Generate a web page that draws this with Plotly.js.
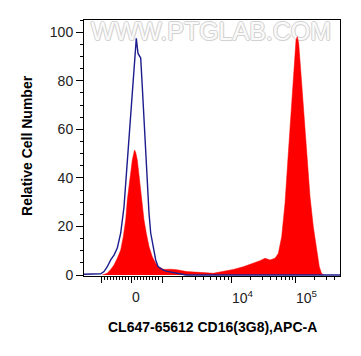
<!DOCTYPE html>
<html>
<head>
<meta charset="utf-8">
<script src="https://cdn.plot.ly/plotly-3.0.1.min.js"></script>
<style>html,body{margin:0;padding:0;background:#fff;}#chart{width:361px;height:356px;}</style>
</head>
<body>
<div id="chart"></div>
<script>
// Display channel (0..256 on a biexponential display) and relative counts
const sampleChannel = [18.3, 23.3, 26.7, 30, 33.3, 36.7, 39.3, 41.7, 43.3, 46, 48.3, 50.5, 51.7, 53.3, 55, 57.3, 60, 62.3, 65, 68.3, 71.7, 75, 80, 86, 92.7, 102.7, 112.7, 122.7, 129.3, 139.3, 149.3, 159.3, 169.3, 176, 181, 186, 191, 194.3, 197.7, 201, 204.3, 207.7, 210, 212, 213.3, 214.7, 216.7, 219.3, 222.7, 226, 229.3, 232.7, 235.3, 237.7, 240];
const sampleCount = [0, 0.7, 2.3, 4.1, 6.9, 10.3, 15.8, 22.7, 30.9, 40.5, 47.4, 51.5, 50.5, 47.4, 40.5, 30.9, 22.7, 17.2, 11.7, 7.5, 4.8, 3.2, 2.3, 2.4, 2.2, 1.4, 1.0, 0.9, 0.7, 1.4, 2.3, 3.4, 4.8, 5.9, 6.9, 6.2, 6.9, 8.9, 15.8, 29.5, 50.1, 70.7, 88.6, 96.8, 98.2, 95.5, 84.5, 70.7, 50.1, 32.3, 19.9, 10.3, 3.4, 0.5, 0];

const controlChannel = [0, 12, 16.7, 20, 23.3, 26.7, 30, 33.3, 36.7, 40, 43.3, 46.7, 50, 52.3, 54, 55.5, 56.7, 58.3, 60, 61.7, 63.3, 65, 66.7, 70, 71.7, 74, 78, 82, 88, 96, 102, 256];
const controlCount = [0.3, 0.4, 0.5, 1.4, 3.4, 6.2, 8.2, 11.1, 17.3, 28.1, 47.4, 63.9, 84.5, 97.5, 91.3, 89.8, 89.4, 77.6, 63.9, 50.3, 36.4, 25.5, 17.3, 10.3, 6.2, 3.5, 2.3, 1.6, 1.2, 0.6, 0, 0];

const yTickVals = [0, 20, 40, 60, 80, 100];
const xMajorValues = [-1000, 0, 1000, 10000, 100000];
const xLabelValues = [0, 10000, 100000];
const xLabelText = ['0', '10<sup>4</sup>', '10<sup>5</sup>'];
const xMinorValues = [-900,-800,-700,-600,-500,-400,-300,-200,-100,100,200,300,400,500,600,700,800,900,
  2000,3000,4000,5000,6000,7000,8000,9000,20000,30000,40000,50000,60000,70000,80000,90000,200000,300000,400000];

const xTitle = 'CL647-65612 CD16(3G8),APC-A';
const yTitle = 'Relative Cell Number';
const watermark = 'WWW.PTGLAB.COM';

// biexponential display transform (value -> display channel)
function biex(v) {
  const a = Math.abs(v);
  if (a <= 1000) return 47.7 + v * 0.0303;
  let d;
  const l = Math.log10(a);
  if (l <= 4) d = 30.3 + (l - 3) * 69.7;
  else d = 30.3 + 69.7 + (l - 4) * 64;
  return v > 0 ? 47.7 + d : 47.7 - d;
}
const inRange = c => c >= 0 && c <= 256;

const traces = [
  {
    x: [127], y: [99.4], mode: 'text', text: [watermark], hoverinfo: 'skip', showlegend: false,
    textfont: {family: 'Liberation Sans, Arial, sans-serif', size: 25, color: '#fafafa',
      shadow: '1px 0 0 #d2d2d2, -1px 0 0 #d2d2d2, 0 1px 0 #d2d2d2, 0 -1px 0 #d2d2d2, 1px 1px 1px #e0e0e0'}
  },
  {
    x: sampleChannel, y: sampleCount, type: 'scatter', mode: 'lines',
    fill: 'tozeroy', fillcolor: '#ff0000', line: {color: '#ff0000', width: 0.5},
    showlegend: false, hoverinfo: 'skip'
  },
  {
    x: controlChannel, y: controlCount, type: 'scatter', mode: 'lines',
    line: {color: '#1c1c8e', width: 1.4}, showlegend: false, hoverinfo: 'skip'
  }
];

const annotations = xLabelValues.map((v, i) => ({
  x: biex(v) - 1.5, xref: 'x', y: -0.082, yref: 'paper', xanchor: 'left', yanchor: 'middle',
  text: xLabelText[i], showarrow: false, font: {family: 'Liberation Sans, Arial, sans-serif', size: 14, color: '#222'}
}));
annotations.push({
  x: 0.5, xref: 'paper', y: -0.199, yref: 'paper', xanchor: 'center', yanchor: 'middle',
  text: '<b>' + xTitle + '</b>', showarrow: false,
  font: {family: 'Liberation Sans, Arial, sans-serif', size: 14, color: '#000'}
});
annotations.push({
  x: -0.2227, xref: 'paper', y: 0.512, yref: 'paper', xanchor: 'center', yanchor: 'middle',
  text: '<b>' + yTitle + '</b>', textangle: -90, showarrow: false,
  font: {family: 'Liberation Sans, Arial, sans-serif', size: 14, color: '#000'}
});

const layout = {
  width: 361, height: 356,
  margin: {l: 84, r: 21, t: 20, b: 80, pad: 0},
  paper_bgcolor: '#fff', plot_bgcolor: '#fff',
  font: {family: 'Liberation Sans, Arial, sans-serif', size: 14, color: '#222'},
  xaxis: {
    range: [0, 256], showgrid: false, zeroline: false,
    showline: true, linecolor: '#000', linewidth: 1, mirror: true,
    tickmode: 'array', tickvals: xMajorValues.map(biex).filter(inRange), ticks: 'outside',
    ticklen: 6, tickwidth: 1, tickcolor: '#000', showticklabels: false,
    minor: {tickmode: 'array', tickvals: xMinorValues.map(biex).filter(inRange), ticks: 'outside', ticklen: 3, tickwidth: 1, tickcolor: '#000', showgrid: false}
  },
  yaxis: {
    range: [-0.41, 105.07], showgrid: false, zeroline: false,
    showline: true, linecolor: '#000', linewidth: 1, mirror: true,
    tickmode: 'array', tickvals: yTickVals, ticks: 'outside', ticklen: 7, tickwidth: 1, tickcolor: '#000',
    tickfont: {family: 'Liberation Sans, Arial, sans-serif', size: 14, color: '#222'},
    minor: {dtick: 5, tick0: 0, ticks: 'outside', ticklen: 3.5, tickwidth: 1, tickcolor: '#000', showgrid: false}
  },
  annotations: annotations,
  showlegend: false
};

Plotly.newPlot('chart', traces, layout, {displayModeBar: false, staticPlot: true});
</script>
</body>
</html>
